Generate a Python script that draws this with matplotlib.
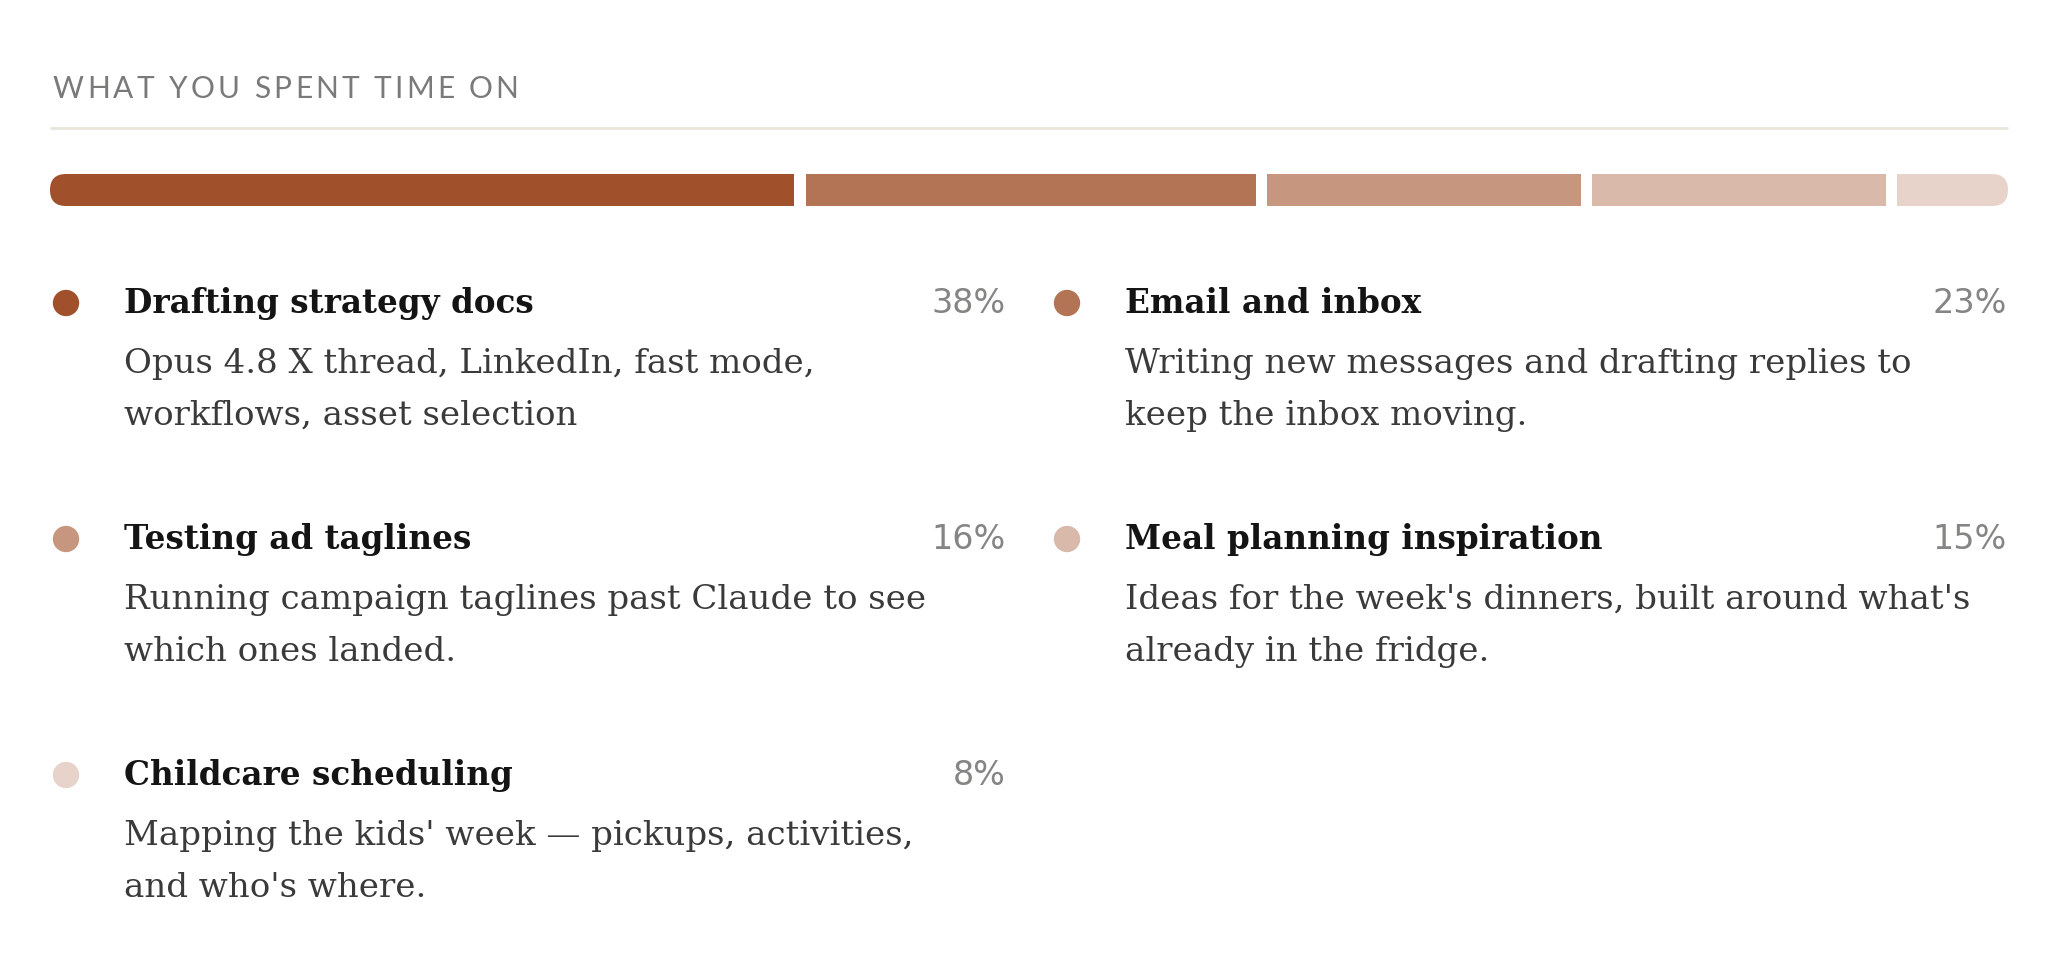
#!/usr/bin/env python3
"""Time-spent breakdown: segmented bar plus a two-column legend with notes."""

import matplotlib
matplotlib.use("Agg")
import matplotlib.pyplot as plt
from matplotlib.patches import FancyBboxPatch

HEADER = "WHAT YOU SPENT TIME ON"
CATEGORIES = ["Drafting strategy docs", "Email and inbox", "Testing ad taglines",
              "Meal planning inspiration", "Childcare scheduling"]
PERCENTS = [38, 23, 16, 15, 8]
DESCRIPTIONS = [
    ["Opus 4.8 X thread, LinkedIn, fast mode,", "workflows, asset selection"],
    ["Writing new messages and drafting replies to", "keep the inbox moving."],
    ["Running campaign taglines past Claude to see", "which ones landed."],
    ["Ideas for the week's dinners, built around what's", "already in the fridge."],
    ["Mapping the kids' week \u2014 pickups, activities,", "and who's where."],
]
COLORS = ["#a0502a", "#b37355", "#c6967f", "#d9b9aa", "#e7d3ca"]

W, H = 2065, 956
SERIF = ["DejaVu Serif"]
SANS = ["Lato", "DejaVu Sans"]
PCT_FONT = ["DejaVu Sans"]


def spaced_text(ax, fig, x, y, s, spacing, **kw):
    # matplotlib has no letter-spacing, so place glyphs one by one
    r = fig.canvas.get_renderer()
    probe = ax.text(0, 0, "|", **kw)
    bar_w = probe.get_window_extent(r).width
    probe.remove()
    for i, ch in enumerate(s):
        if i:
            t = ax.text(0, 0, s[:i] + "|", **kw)
            off = t.get_window_extent(r).width - bar_w
            t.remove()
        else:
            off = 0
        ax.text(x + off + i * spacing, y, ch, **kw)


fig = plt.figure(figsize=(W / 100, H / 100), dpi=100)
ax = fig.add_axes([0, 0, 1, 1])
ax.set_xlim(0, W)
ax.set_ylim(H, 0)
ax.axis("off")

# header + divider
spaced_text(ax, fig, 53, 98, HEADER, 3.3, fontsize=21.5, color="#7a7a78",
            family=SANS, va="baseline")
ax.plot([50, 2008], [128, 128], color="#e8e6da", lw=2, solid_capstyle="butt")

# segmented bar, rounded at both outer ends
x0, x1, yc, bh, gap = 50, 2008, 190, 32, 11.5
span = x1 - x0
lefts, widths = [], []
cum = 0
for i, p in enumerate(PERCENTS):
    lefts.append(x0 + cum / 100 * span + i * gap)
    widths.append(p / 100 * span)
    cum += p
bars = ax.barh([yc] * len(PERCENTS), widths, left=lefts, height=bh,
               color=COLORS, edgecolor="none")
clip = FancyBboxPatch((x0 + bh / 2, yc), span - bh, 0,
                      boxstyle=f"round,pad={bh / 2},rounding_size={bh / 2}",
                      facecolor="none", edgecolor="none")
ax.add_patch(clip)
for b in bars:
    b.set_clip_path(clip)

# legend grid: two columns, row-major
col_dot = [66, 1067]
col_txt = [124, 1125]
col_pct = [1006, 2007]
row_base = [313, 549, 785]
for i, (cat, pct, desc, c) in enumerate(zip(CATEGORIES, PERCENTS, DESCRIPTIONS, COLORS)):
    col, row = i % 2, i // 2
    yb = row_base[row]
    ax.scatter([col_dot[col]], [yb - 10], s=360, color=c, edgecolors="none")
    ax.text(col_txt[col], yb, cat, fontsize=23.5, fontweight="bold", color="#141414",
            family=SERIF, va="baseline")
    ax.text(col_pct[col], yb, f"{pct}%", fontsize=24, color="#858583",
            family=PCT_FONT, va="baseline", ha="right")
    for j, line in enumerate(desc):
        ax.text(col_txt[col], yb + 60 + j * 52, line, fontsize=24.5, color="#3a3a3a",
                family=SERIF, va="baseline")

fig.savefig("out.png", dpi=100, facecolor="white")
